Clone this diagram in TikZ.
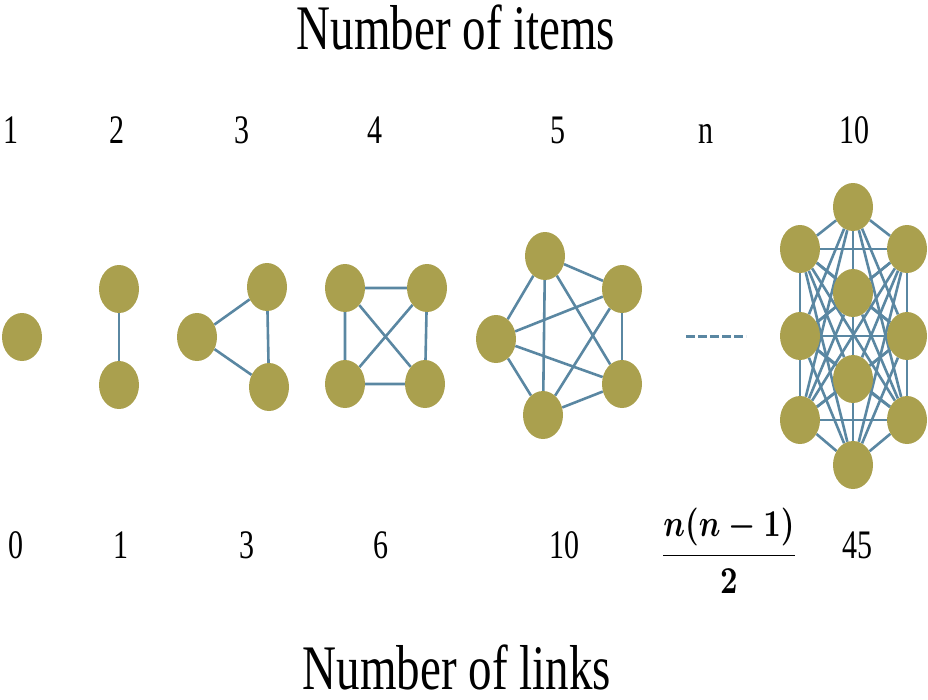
\documentclass[tikz,border=0pt]{standalone}
\usepackage{fontspec}
\setmainfont{Liberation Serif}
\usetikzlibrary{shapes.geometric,backgrounds}

\definecolor{itemfill}{RGB}{170,160,78}
\definecolor{linkcol}{RGB}{90,135,162}

\tikzset{
  item/.style={ellipse,fill=itemfill,inner sep=0pt,minimum width=40pt,minimum height=48pt},
  link/.style={linkcol,line width=2.6pt},
  cnt/.style={font=\fontsize{30}{32}\selectfont,anchor=base,yscale=1.35,inner sep=0pt},
  title/.style={font=\fontsize{47}{50}\selectfont,anchor=base,yscale=1.35,inner sep=0pt,text depth=0pt}
}

\begin{document}
\begin{tikzpicture}[x=1pt,y=-1pt]
\useasboundingbox (0,0) rectangle (928,699);

  \node (items) at (456,49) [title] {Number of items};
  \node (links) at (457,689) [title] {Number of links};

  % number of items
  \node (t1) at (11,143) [cnt] {1};
  \node (t2) at (117,143) [cnt] {2};
  \node (t3) at (242,143) [cnt] {3};
  \node (t4) at (375,143) [cnt] {4};
  \node (t5) at (558,143) [cnt] {5};
  \node (tn) at (706,143) [cnt] {n};
  \node (t10) at (854,143) [cnt] {10};

  % number of links
  \node (b1) at (16,558) [cnt] {0};
  \node (b2) at (121,558) [cnt] {1};
  \node (b3) at (247,558) [cnt] {3};
  \node (b4) at (381,558) [cnt] {6};
  \node (b5) at (564,558) [cnt] {10};
  \node (bn) at (729,551) [font=\boldmath,xscale=3.05,yscale=3.8,inner sep=0pt]
     {$\displaystyle\frac{n(n-1)}{2}$};
  \node (b10) at (857,558) [cnt] {45};

  % one item
  \node (A0) at (22,337) [item] {};

  % two items
  \node (B0) at (119,289) [item] {};
  \node (B1) at (119,385) [item] {};

  % three items
  \node (C0) at (197,337) [item] {};
  \node (C1) at (267,287) [item] {};
  \node (C2) at (269,387) [item] {};

  % four items
  \node (D0) at (345,288) [item] {};
  \node (D1) at (427,288) [item] {};
  \node (D2) at (345,384) [item] {};
  \node (D3) at (425,384) [item] {};

  % five items
  \node (F0) at (545,256) [item] {};
  \node (F1) at (622,289) [item] {};
  \node (F2) at (622,384) [item] {};
  \node (F3) at (543,415) [item] {};
  \node (F4) at (496,339) [item] {};

  % ten items
  \node (T0) at (853,207) [item] {};
  \node (T1) at (800,249) [item] {};
  \node (T2) at (907,249) [item] {};
  \node (T3) at (853,293) [item] {};
  \node (T4) at (800,336) [item] {};
  \node (T5) at (907,336) [item] {};
  \node (T6) at (853,379) [item] {};
  \node (T7) at (800,420) [item] {};
  \node (T8) at (907,420) [item] {};
  \node (T9) at (853,465) [item] {};

  \coordinate (dl) at (686,336);
  \coordinate (dr) at (746,336);

\begin{scope}[on background layer]
\draw[link] (B0) -- (B1);

\draw[link]
   (C0) -- (C1) -- (C2) -- (C0);

\draw[link]
   (D0) -- (D1) -- (D3) -- (D2) -- (D0)
   (D0) -- (D3)
   (D1) -- (D2);

\foreach \i in {0,...,3}{
  \pgfmathtruncatemacro\k{\i+1}
  \foreach \j in {\k,...,4}
    \draw[link] (F\i) -- (F\j);
}

\foreach \i in {0,...,8}{
  \pgfmathtruncatemacro\k{\i+1}
  \foreach \j in {\k,...,9}
    \draw[link] (T\i) -- (T\j);
}
\end{scope}

\draw[linkcol,line width=3pt,dash pattern=on 9pt off 3pt] (dl) -- (dr);

\end{tikzpicture}
\end{document}
